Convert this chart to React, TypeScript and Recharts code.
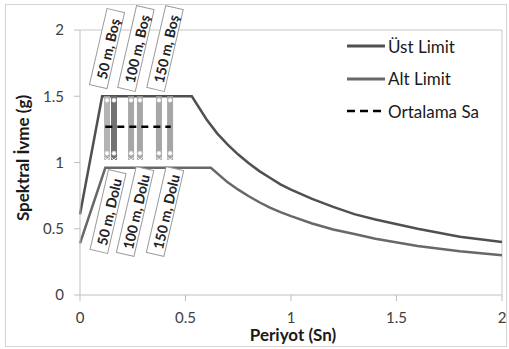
import React from 'react';
import {
  ComposedChart,
  Line,
  XAxis,
  YAxis,
  ReferenceLine,
  ReferenceDot,
  Legend,
} from 'recharts';

// Spectrum limits (period in s, Sa in g)
const UPPER_T = [0, 0.105, 0.53, 0.6, 0.65, 0.7, 0.75, 0.8, 0.85, 0.9, 0.95, 1.0, 1.1, 1.2, 1.3, 1.4, 1.6, 1.8, 2.0];
const UPPER_SA = [0.61, 1.5, 1.5, 1.325, 1.22, 1.135, 1.06, 0.995, 0.935, 0.885, 0.835, 0.795, 0.725, 0.665, 0.61, 0.57, 0.5, 0.44, 0.4];
const LOWER_T = [0, 0.12, 0.62, 0.7, 0.75, 0.8, 0.85, 0.9, 0.95, 1.0, 1.1, 1.2, 1.3, 1.4, 1.6, 1.8, 2.0];
const LOWER_SA = [0.39, 0.96, 0.96, 0.85, 0.795, 0.745, 0.7, 0.66, 0.625, 0.595, 0.54, 0.495, 0.46, 0.425, 0.37, 0.33, 0.3];

// Vertical bands of computed Sa (one pair per distance)
const BAND_T = [0.128, 0.161, 0.242, 0.284, 0.374, 0.427];
const BAND_SA = [1.5, 1.47, 1.07, 1.02];
const BAND_MARK = ['', 'o', 'o', 'x'];

const MEAN_T = [0.12, 0.43];
const MEAN_SA = 1.27;

const LABELS_TOP = ['50 m, Boş', '100 m, Boş', '150 m, Boş'];
const LABELS_BOTTOM = ['50 m, Dolu', '100 m, Dolu', '150 m, Dolu'];
const LABEL_T_TOP = [0.128, 0.265, 0.403];
const LABEL_T_BOTTOM = [0.133, 0.261, 0.403];
const LABEL_SA_TOP = 1.86;
const LABEL_SA_BOTTOM = 0.63;

const LEGEND_ORDER = ['Üst Limit', 'Alt Limit', 'Ortalama Sa'];

const TICKS = [0, 0.5, 1, 1.5, 2];

const FONT = 'Lato, "Open Sans", sans-serif';
const AXIS_GREY = '#bfbfbf';
const BAND_COLORS = ['#b4b4b4', '#727272', '#a6a6a6', '#a6a6a6', '#a6a6a6', '#a6a6a6'];

const upperData = UPPER_T.map((T, i) => ({ T, v: UPPER_SA[i] }));
const lowerData = LOWER_T.map((T, i) => ({ T, v: LOWER_SA[i] }));
const meanData = MEAN_T.map((T) => ({ T, v: MEAN_SA }));
const bandData = BAND_T.map((T) => BAND_SA.map((v, j) => ({ T, v, m: BAND_MARK[j] })));

function bandDot(p: any) {
  const { cx, cy, payload, index } = p;
  if (payload.m === 'o') {
    return <circle key={`o-${index}`} cx={cx} cy={cy} r={2} fill="#fff" stroke="#e0e0e0" strokeWidth={0.8} />;
  }
  if (payload.m === 'x') {
    return (
      <path
        key={`x-${index}`}
        d={`M${cx - 2.5},${cy - 2.5}l5,5m0,-5l-5,5`}
        stroke="#fff"
        strokeWidth={1}
        fill="none"
      />
    );
  }
  return <g key={`n-${index}`} />;
}

function tagShape(text: string, len: number) {
  return (p: any) => (
    <g transform={`translate(${p.cx},${p.cy}) rotate(-77)`}>
      <rect x={-len / 2} y={-9} width={len} height={18} fill="#fff" stroke="#9a9a9a" strokeWidth={1} />
      <text
        x={0}
        y={1}
        textAnchor="middle"
        dominantBaseline="central"
        fontSize={14}
        fontWeight={700}
        fontFamily={FONT}
        fill="#222"
      >
        {text}
      </text>
    </g>
  );
}

function LegendBox(props: any) {
  const items = (props.payload || [])
    .filter((e: any) => LEGEND_ORDER.includes(e.value))
    .sort((a: any, b: any) => LEGEND_ORDER.indexOf(a.value) - LEGEND_ORDER.indexOf(b.value));
  return (
    <div style={{ fontFamily: FONT, fontSize: 17, color: '#1a1a1a' }}>
      {items.map((e: any) => {
        const dashed = e.value === 'Ortalama Sa';
        return (
          <div key={e.value} style={{ display: 'flex', alignItems: 'center', height: 32.5 }}>
            <svg width={38} height={6} style={{ marginRight: 3 }}>
              <line
                x1={0}
                y1={3}
                x2={38}
                y2={3}
                stroke={e.color}
                strokeWidth={dashed ? 2.5 : 3}
                strokeDasharray={dashed ? '8 5' : undefined}
              />
            </svg>
            <span>{e.value}</span>
          </div>
        );
      })}
    </div>
  );
}

export default function App() {
  return (
    <div style={{ position: 'fixed', left: 0, top: 0, width: 509, height: 349, background: '#fff' }}>
      <div
        style={{
          position: 'absolute',
          left: 5,
          top: 4,
          width: 500,
          height: 341,
          border: '1px solid #d4d4d4',
        }}
      />
      <ComposedChart
        width={509}
        height={349}
        margin={{ top: 30, right: 7, bottom: 0, left: 0 }}
        style={{ fontFamily: FONT }}
      >
        <XAxis
          dataKey="T"
          type="number"
          domain={[0, 2]}
          ticks={TICKS}
          height={54}
          axisLine={{ stroke: AXIS_GREY }}
          tickLine={{ stroke: AXIS_GREY }}
          tickSize={6}
          tickMargin={11}
          tick={{ fontSize: 15, fill: '#404040' }}
          label={{
            content: () => (
              <text x={293} y={341} textAnchor="middle" fontSize={17} fontWeight={700} fill="#1a1a1a" fontFamily={FONT}>
                Periyot (Sn)
              </text>
            ),
          }}
        />
        <YAxis
          type="number"
          domain={[0, 2]}
          ticks={TICKS}
          width={80}
          axisLine={{ stroke: AXIS_GREY }}
          tickLine={{ stroke: AXIS_GREY }}
          tickSize={6}
          tickMargin={10}
          tick={{ fontSize: 15, fill: '#404040' }}
          label={{
            content: () => (
              <text
                x={22}
                y={158}
                transform="rotate(-90 22 158)"
                textAnchor="middle"
                dominantBaseline="central"
                fontSize={17}
                fontWeight={700}
                fill="#1a1a1a"
                fontFamily={FONT}
              >
                Spektral İvme (g)
              </text>
            ),
          }}
        />
        <ReferenceLine y={2} stroke="#c8c8c8" />
        <ReferenceLine x={2} stroke="#c8c8c8" />
        <Legend
          layout="horizontal"
          verticalAlign="middle"
          align="center"
          wrapperStyle={{ left: 347, top: 30, width: 160, height: 100 }}
          content={<LegendBox />}
        />
        <Line
          data={upperData}
          dataKey="v"
          name="Üst Limit"
          stroke="#505050"
          strokeWidth={2.5}
          dot={false}
          type="linear"
          isAnimationActive={false}
        />
        <Line
          data={lowerData}
          dataKey="v"
          name="Alt Limit"
          stroke="#686868"
          strokeWidth={2.5}
          dot={false}
          type="linear"
          isAnimationActive={false}
        />
        {bandData.map((d, i) => (
          <Line
            key={`band-${i}`}
            data={d}
            dataKey="v"
            name={`band-${i}`}
            legendType="none"
            stroke={BAND_COLORS[i]}
            strokeWidth={6}
            dot={bandDot}
            activeDot={false}
            type="linear"
            isAnimationActive={false}
          />
        ))}
        <Line
          data={meanData}
          dataKey="v"
          name="Ortalama Sa"
          stroke="#000"
          strokeWidth={2.5}
          strokeDasharray="7 5"
          dot={false}
          type="linear"
          isAnimationActive={false}
        />
        {LABELS_TOP.map((t, i) => (
          <ReferenceDot
            key={`lt-${i}`}
            x={LABEL_T_TOP[i]}
            y={LABEL_SA_TOP}
            shape={tagShape(t, i === 0 ? 78 : 84)}
          />
        ))}
        {LABELS_BOTTOM.map((t, i) => (
          <ReferenceDot
            key={`lb-${i}`}
            x={LABEL_T_BOTTOM[i]}
            y={LABEL_SA_BOTTOM}
            shape={tagShape(t, i === 0 ? 82 : 88)}
          />
        ))}
      </ComposedChart>
    </div>
  );
}
